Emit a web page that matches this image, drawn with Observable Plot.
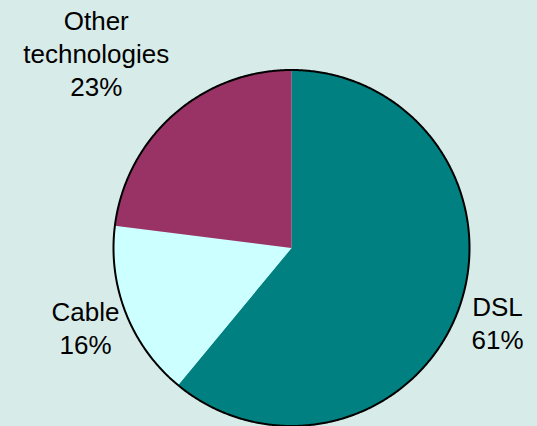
<!DOCTYPE html>
<html>
<head>
<meta charset="utf-8">
<script src="https://cdn.jsdelivr.net/npm/d3@7"></script>
<script src="https://cdn.jsdelivr.net/npm/@observablehq/plot@0.6"></script>
<style>
  html, body { margin: 0; padding: 0; background: #d7ebe9; overflow: hidden; }
</style>
</head>
<body>
<div id="chart"></div>
<script>
// Data
const categories = ["DSL", "Cable", "Other\ntechnologies"];
const shares = [61, 16, 23];
const colors = ["#008080", "#ccffff", "#993366"];

const W = 537, H = 426;
const R = 178, CX = 291, CY = 247.5;

// pie angles (clockwise from top)
const pie = d3.pie().sort(null).value(d => d.value);
const arcs = pie(categories.map((name, i) => ({name, value: shares[i]})));

const slicePts = [];
arcs.forEach(a => {
  const n = Math.max(2, Math.ceil((a.endAngle - a.startAngle) / (Math.PI / 360)));
  slicePts.push({name: a.data.name, x: 0, y: 0});
  for (let k = 0; k <= n; k++) {
    const t = a.startAngle + (a.endAngle - a.startAngle) * k / n;
    slicePts.push({name: a.data.name, x: Math.sin(t), y: Math.cos(t)});
  }
  slicePts.push({name: a.data.name, x: 0, y: 0});
});

const ring = d3.range(0, 721).map(k => {
  const t = k / 720 * 2 * Math.PI;
  return {x: Math.sin(t), y: Math.cos(t)};
});

const labelRadius = {"DSL": 1.23, "Cable": 1.24, "Other\ntechnologies": 1.551};
const labelShift = {"DSL": 0, "Cable": 0.009, "Other\ntechnologies": -0.063};
const labels = arcs.map(a => {
  const m = (a.startAngle + a.endAngle) / 2 + labelShift[a.data.name];
  const r = labelRadius[a.data.name];
  return {text: `${a.data.name}\n${a.data.value}%`, x: r * Math.sin(m), y: r * Math.cos(m)};
});

const chart = Plot.plot({
  width: W,
  height: H,
  margin: 0,
  style: {background: "#d7ebe9", fontFamily: "'Liberation Sans', Arial, sans-serif"},
  x: {domain: [-CX / R, (W - CX) / R], axis: null},
  y: {domain: [-(H - CY) / R, CY / R], axis: null},
  color: {domain: categories, range: colors},
  marks: [
    Plot.line(slicePts, {x: "x", y: "y", z: "name", fill: "name", stroke: "none", curve: "linear"}),
    Plot.line(ring, {x: "x", y: "y", stroke: "black", strokeWidth: 2}),
    Plot.text(labels, {x: "x", y: "y", text: "text", fontSize: 26, lineHeight: 1.27, fill: "black"})
  ]
});
document.getElementById("chart").appendChild(chart);
</script>
</body>
</html>
